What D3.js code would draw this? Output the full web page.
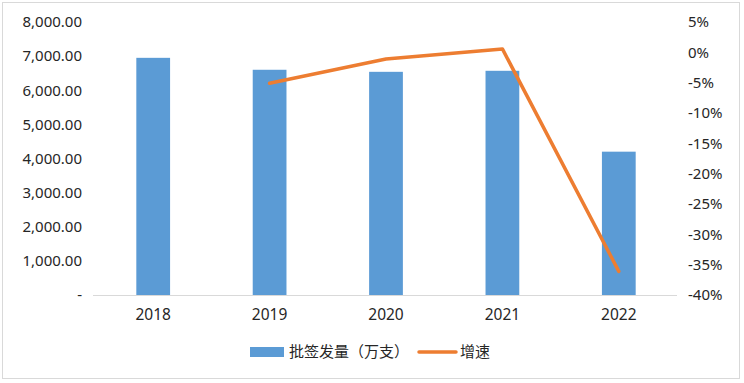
<!DOCTYPE html>
<html><head><meta charset="utf-8">
<script src="https://cdn.jsdelivr.net/npm/d3@7"></script>
<style>body{margin:0;background:#fff}svg{display:block}text{font-family:"Noto Sans","Noto Sans CJK SC",sans-serif;fill:#262626}</style>
</head><body><svg id="c" width="744" height="383"></svg>
<script>
const years = ["2018","2019","2020","2021","2022"];
const volume = [6950, 6600, 6540, 6570, 4200];
const growth = [null, -0.051, -0.011, 0.0056, -0.361];
const leftTicks = [0,1000,2000,3000,4000,5000,6000,7000,8000];
const rightTicks = [0.05,0,-0.05,-0.10,-0.15,-0.20,-0.25,-0.30,-0.35,-0.40];
const seriesNames = ["批签发量（万支）","增速"];

const svg = d3.select("#c");
svg.append("rect").attr("x",2.5).attr("y",2.5).attr("width",737).attr("height",376)
  .attr("fill","#fff").attr("stroke","#d9d9d9");

const m={l:95,r:677,t:22,b:295};
const x=d3.scaleBand().domain(years).range([m.l,m.r]).paddingInner(0.71).paddingOuter(0.355);
const yL=d3.scaleLinear().domain([0,8000]).range([m.b,m.t]);
const yR=d3.scaleLinear().domain([-0.40,0.05]).range([m.b,m.t]);

svg.append("g").selectAll("rect").data(years).join("rect")
  .attr("x",d=>x(d)).attr("width",x.bandwidth())
  .attr("y",(d,i)=>yL(volume[i])).attr("height",(d,i)=>yL(0)-yL(volume[i]))
  .attr("fill","#5B9BD5");

svg.append("line").attr("x1",m.l-2).attr("x2",m.r).attr("y1",m.b+0.5).attr("y2",m.b+0.5)
  .attr("stroke","#d9d9d9").attr("stroke-width",1);

const fmt=d3.format(",.2f");
const la=d3.axisLeft(yL).tickValues(leftTicks).tickSize(0).tickPadding(13)
  .tickFormat(d=>d===0?"-   ":fmt(d));
const gl=svg.append("g").attr("transform",`translate(${m.l},0)`).call(la);
gl.select(".domain").remove();
gl.selectAll("text").attr("font-size",15).attr("fill","#262626").style("font-family",'"Noto Sans",sans-serif');

const ra=d3.axisRight(yR).tickValues(rightTicks).tickSize(0).tickPadding(11)
  .tickFormat(d=>Math.round(d*100)+"%");
const gr=svg.append("g").attr("transform",`translate(${m.r},0)`).call(ra);
gr.select(".domain").remove();
gr.selectAll("text").attr("font-size",15).attr("fill","#262626").style("font-family",'"Noto Sans",sans-serif');

const xa=d3.axisBottom(x).tickSize(0).tickPadding(14);
const gx=svg.append("g").attr("transform",`translate(0,${m.b})`).call(xa);
gx.select(".domain").remove();
gx.selectAll("text").attr("font-size",15.5).attr("fill","#262626").style("font-family",'"Noto Sans",sans-serif');

const pts=years.map((d,i)=>({d,v:growth[i]})).filter(p=>p.v!==null);
svg.append("path").datum(pts)
  .attr("d",d3.line().x(p=>x(p.d)+x.bandwidth()/2).y(p=>yR(p.v)))
  .attr("fill","none").attr("stroke","#ED7D31").attr("stroke-width",3.5)
  .attr("stroke-linejoin","round").attr("stroke-linecap","round");

const lg=svg.append("g");
lg.append("rect").attr("x",250).attr("y",347).attr("width",34).attr("height",10).attr("fill","#5B9BD5");
lg.append("text").attr("x",289).attr("y",352).attr("dy","0.35em").attr("font-size",15)
  .style("font-family",'"Noto Sans CJK SC",sans-serif').text(seriesNames[0]);
lg.append("line").attr("x1",419).attr("x2",456).attr("y1",352).attr("y2",352)
  .attr("stroke","#ED7D31").attr("stroke-width",3.5).attr("stroke-linecap","round");
lg.append("text").attr("x",460).attr("y",352).attr("dy","0.35em").attr("font-size",15)
  .style("font-family",'"Noto Sans CJK SC",sans-serif').text(seriesNames[1]);
</script></body></html>
